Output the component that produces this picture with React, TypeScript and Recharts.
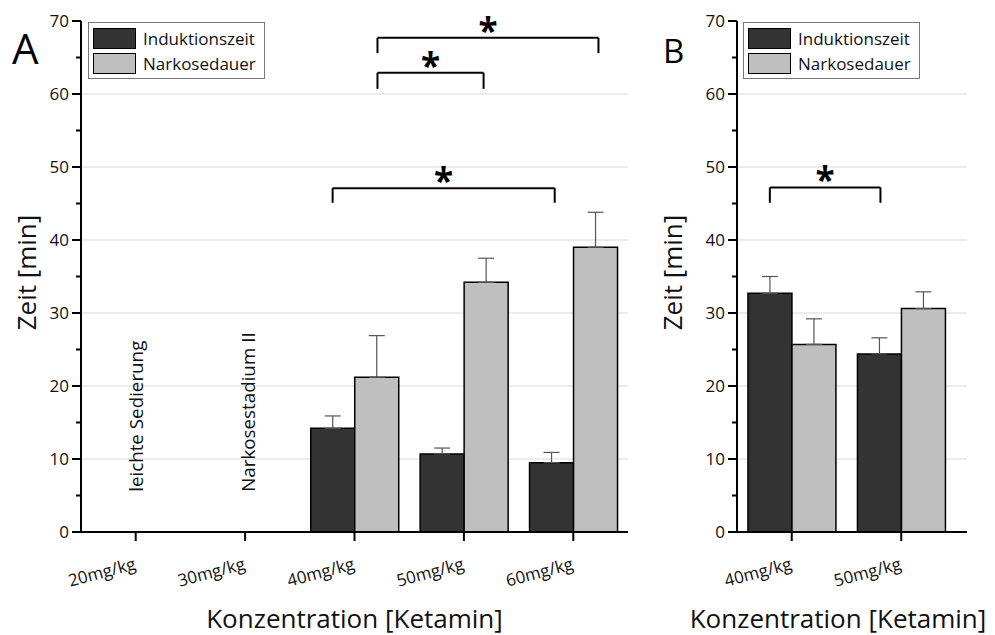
import React from "react";
import { BarChart, Bar, XAxis, YAxis, CartesianGrid, ErrorBar, Legend, ReferenceLine, ReferenceDot } from "recharts";

const FONT = '"Open Sans", "Noto Sans", sans-serif';

// Panel A
const dosesA = ["20mg/kg", "30mg/kg", "40mg/kg", "50mg/kg", "60mg/kg"];
const inductionA = [null, null, 14.2, 10.7, 9.5];
const inductionErrA = [null, null, 1.7, 0.8, 1.4];
const narcosisA = [null, null, 21.2, 34.2, 39.0];
const narcosisErrA = [null, null, 5.7, 3.3, 4.8];
const notesA = ["leichte Sedierung", "Narkosestadium II"];
const notePosA = [0.57, 1.59];
const noteBaseA = 5.5;
// significance brackets: [x1, x2, yTop, yFoot], x on a 0..n category scale
const bracketsA = [
  [2.71, 4.73, 67.7, 65.6],
  [2.71, 3.68, 62.9, 60.7],
  [2.3, 4.33, 47.1, 45.1],
];

// Panel B
const dosesB = ["40mg/kg", "50mg/kg"];
const inductionB = [32.7, 24.4];
const inductionErrB = [2.3, 2.2];
const narcosisB = [25.7, 30.6];
const narcosisErrB = [3.5, 2.3];
const bracketsB = [[0.3, 1.31, 47.2, 45.1]];

const yTicks = [0, 5, 10, 15, 20, 25, 30, 35, 40, 45, 50, 55, 60, 65, 70];
const gridValues = [10, 20, 30, 40, 50, 60];

const DARK = "#333333";
const LIGHT = "#bfbfbf";

function buildData(doses, ind, indErr, nar, narErr) {
  return doses.map((d, i) => ({
    dose: d,
    pos: i + 0.5,
    ind: ind[i],
    indErr: indErr[i] == null ? undefined : [0, indErr[i]],
    nar: nar[i],
    narErr: narErr[i] == null ? undefined : [0, narErr[i]],
  }));
}

const renderYTick = (props) => {
  const { x, y, payload } = props;
  const major = payload.value % 10 === 0;
  return (
    <g>
      <line x1={x - (major ? 9 : 5)} x2={x} y1={y} y2={y} stroke="#000" strokeWidth={2} />
      {major && (
        <text x={x - 12} y={y} dy="0.36em" textAnchor="end" fontSize={17} fill="#111" fontFamily={FONT}>
          {payload.value}
        </text>
      )}
    </g>
  );
};

const renderXTick = (props) => {
  const { x, y, payload } = props;
  const ty = y + 37;
  return (
    <g>
      <line x1={x} x2={x} y1={y} y2={y + 9} stroke="#000" strokeWidth={2} />
      <text x={x + 1} y={ty} textAnchor="end" fontSize={17} fill="#111" fontFamily={FONT} transform={`rotate(-15, ${x + 1}, ${ty})`}>
        {payload.value}
      </text>
    </g>
  );
};

const renderLegend = (props) => {
  const items = props.payload || [];
  return (
    <div style={{ border: "1px solid #777", background: "#fff", padding: "3px 8px 2px 4px", fontFamily: FONT }}>
      {items.map((it) => (
        <div key={it.value} style={{ display: "flex", alignItems: "center", height: 25 }}>
          <div style={{ width: 41, height: 19, background: it.color, border: "1.5px solid #000", marginRight: 7 }} />
          <span style={{ fontSize: 17, color: "#111" }}>{it.value}</span>
        </div>
      ))}
    </div>
  );
};

const renderStar = (props) => {
  const { viewBox } = props;
  return (
    <text x={viewBox.x} y={viewBox.y + 5} textAnchor="middle" fontSize={35} fontWeight="bold" fill="#000" fontFamily={FONT}>
      *
    </text>
  );
};

const makeNote = (text) => (props) => {
  const { viewBox } = props;
  return (
    <text x={viewBox.x} y={viewBox.y} textAnchor="start" fontSize={18.8} fill="#111" fontFamily={FONT} transform={`rotate(-90, ${viewBox.x}, ${viewBox.y})`}>
      {text}
    </text>
  );
};

function Panel({ data, brackets, notes, notePos, noteBase, width, margin, padRight, legendPos, yLabelDx, xLabelDx }) {
  const n = data.length;
  const pad = { left: 0, right: padRight };
  return (
    <BarChart width={width} height={635} data={data} margin={margin} barCategoryGap="10%" barGap={0}>
      <CartesianGrid vertical={false} horizontalValues={gridValues} stroke="#d9d9d9" />
      <XAxis
        dataKey="dose"
        interval={0}
        tickSize={0}
        tickMargin={0}
        tickLine={false}
        tick={renderXTick}
        axisLine={{ stroke: "#000", strokeWidth: 2 }}
        padding={pad}
        height={103}
        label={{
          content: ({ viewBox }) => (
            <text x={viewBox.x + viewBox.width / 2 + xLabelDx} y={viewBox.y + 96} textAnchor="middle" fontSize={26} fill="#111" fontFamily={FONT}>
              Konzentration [Ketamin]
            </text>
          ),
        }}
      />
      <XAxis xAxisId="n" dataKey="pos" type="number" domain={[0, n]} hide allowDataOverflow padding={pad} />
      <YAxis
        type="number"
        domain={[0, 70]}
        ticks={yTicks}
        interval={0}
        tickSize={0}
        tickMargin={0}
        tickLine={false}
        tick={renderYTick}
        axisLine={{ stroke: "#000", strokeWidth: 2 }}
        width={70}
        label={{
          content: ({ viewBox }) => {
            const lx = viewBox.x + yLabelDx;
            const ly = viewBox.y + viewBox.height / 2 - 4;
            return (
              <text x={lx} y={ly} textAnchor="middle" fontSize={26} fill="#111" fontFamily={FONT} transform={`rotate(-90, ${lx}, ${ly})`}>
                Zeit [min]
              </text>
            );
          },
        }}
      />
      <Legend layout="vertical" align="center" verticalAlign="middle" wrapperStyle={{ left: legendPos[0], top: legendPos[1], width: "auto" }} content={renderLegend} />
      <Bar dataKey="ind" name="Induktionszeit" fill={DARK} stroke="#000" strokeWidth={1.5} isAnimationActive={false}>
        <ErrorBar dataKey="indErr" width={8} stroke="#555" strokeWidth={1.2} direction="y" />
      </Bar>
      <Bar dataKey="nar" name="Narkosedauer" fill={LIGHT} stroke="#000" strokeWidth={1.5} isAnimationActive={false}>
        <ErrorBar dataKey="narErr" width={8} stroke="#555" strokeWidth={1.2} direction="y" />
      </Bar>
      {brackets.map(([x1, x2, yt, yf], i) => [
        <ReferenceLine key={`bl${i}`} xAxisId="n" segment={[{ x: x1, y: yf }, { x: x1, y: yt }]} stroke="#000" strokeWidth={2} ifOverflow="visible" />,
        <ReferenceLine key={`bt${i}`} xAxisId="n" segment={[{ x: x1, y: yt }, { x: x2, y: yt }]} stroke="#000" strokeWidth={2} ifOverflow="visible" />,
        <ReferenceLine key={`br${i}`} xAxisId="n" segment={[{ x: x2, y: yt }, { x: x2, y: yf }]} stroke="#000" strokeWidth={2} ifOverflow="visible" />,
        <ReferenceDot key={`bs${i}`} xAxisId="n" x={(x1 + x2) / 2} y={yt} r={0} fill="none" stroke="none" ifOverflow="visible" label={renderStar} />,
      ])}
      {notes.map((t, i) => (
        <ReferenceDot key={`note${i}`} xAxisId="n" x={notePos[i]} y={noteBase} r={0} fill="none" stroke="none" label={makeNote(t)} />
      ))}
    </BarChart>
  );
}

export default function App() {
  const dataA = buildData(dosesA, inductionA, inductionErrA, narcosisA, narcosisErrA);
  const dataB = buildData(dosesB, inductionB, inductionErrB, narcosisB, narcosisErrB);
  return (
    <div style={{ position: "absolute", left: 0, top: 0, width: 995, height: 635, background: "#fff", fontFamily: FONT }}>
      <div style={{ position: "absolute", left: 0, top: 0 }}>
        <Panel
          data={dataA}
          brackets={bracketsA}
          notes={notesA}
          notePos={notePosA}
          noteBase={noteBaseA}
          width={650}
          margin={{ top: 21, right: 22, bottom: 0, left: 11 }}
          padRight={0}
          legendPos={[88, 22]}
          yLabelDx={25}
          xLabelDx={0}
        />
      </div>
      <div style={{ position: "absolute", left: 650, top: 0 }}>
        <Panel
          data={dataB}
          brackets={bracketsB}
          notes={[]}
          notePos={[]}
          noteBase={0}
          width={345}
          margin={{ top: 21, right: 28, bottom: 0, left: 17 }}
          padRight={11}
          legendPos={[93, 22]}
          yLabelDx={15}
          xLabelDx={-14}
        />
      </div>
      <div style={{ position: "absolute", left: 12, top: 27, fontSize: 42, lineHeight: 1, color: "#000" }}>A</div>
      <div style={{ position: "absolute", left: 663, top: 34, fontSize: 33, lineHeight: 1, color: "#000" }}>B</div>
    </div>
  );
}
